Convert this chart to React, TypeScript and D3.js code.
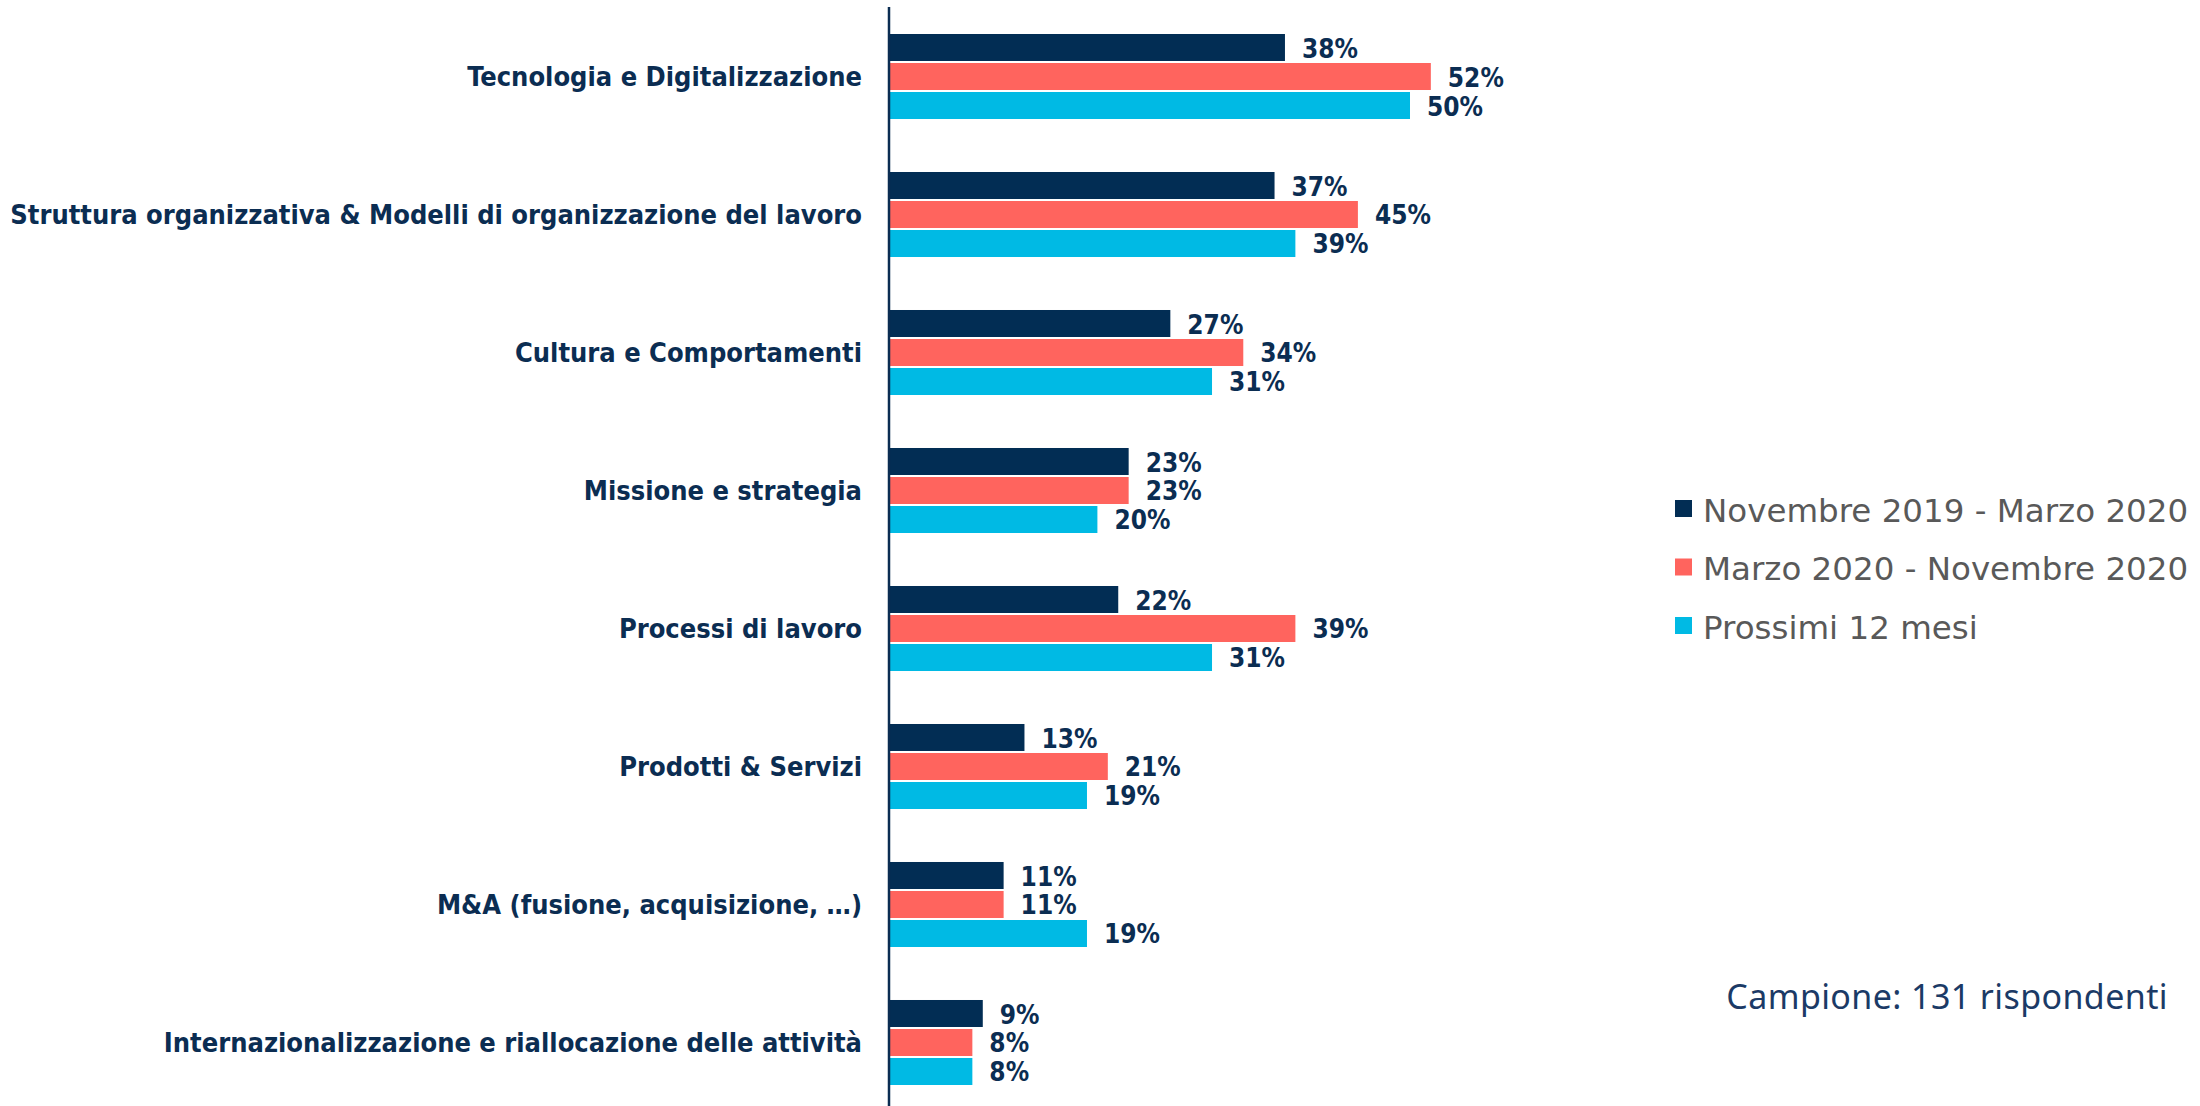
import React from 'react'
import * as d3 from 'd3'

const categories = [
  'Tecnologia e Digitalizzazione',
  'Struttura organizzativa & Modelli di organizzazione del lavoro',
  'Cultura e Comportamenti',
  'Missione e strategia',
  'Processi di lavoro',
  'Prodotti & Servizi',
  'M&A (fusione, acquisizione, …)',
  'Internazionalizzazione e riallocazione delle attività',
]
const seriesNames = ['Novembre 2019 - Marzo 2020', 'Marzo 2020 - Novembre 2020', 'Prossimi 12 mesi']
const seriesColors = ['#022d54', '#ff645e', '#00bae4']
const novMar = [38, 37, 27, 23, 22, 13, 11, 9]
const marNov = [52, 45, 34, 23, 39, 21, 11, 8]
const prossimi = [50, 39, 31, 20, 31, 19, 19, 8]
const seriesValues = [novMar, marNov, prossimi]

const navy = '#0b2d52'
const condensed = '"DejaVu Sans Condensed", "DejaVu Sans", sans-serif'

const App = () => {
  const width = 2200
  const height = 1106

  const x = d3.scaleLinear().domain([0, 60]).range([889, 889 + 625.2])
  const y0 = d3.scaleBand<string>().domain(categories).range([34, 1085]).paddingInner(0.384).paddingOuter(0)
  const y1 = d3.scaleBand<string>().domain(seriesNames).range([0, y0.bandwidth()]).paddingInner(0.069).paddingOuter(0)

  return (
    <svg width={width} height={height} style={{ position: 'absolute', left: 0, top: 0, background: '#fff' }}>
      {categories.map((cat, i) => (
        <g key={cat} transform={`translate(0,${y0(cat)})`}>
          {seriesNames.map((s, j) => {
            const v = seriesValues[j][i]
            const by = y1(s) as number
            return (
              <g key={s}>
                <rect
                  x={x(0)}
                  y={by}
                  width={x(v) - x(0)}
                  height={y1.bandwidth()}
                  fill={seriesColors[j]}
                />
                <text
                  x={x(v) + 17}
                  y={by + y1.bandwidth() / 2 + 1}
                  dominantBaseline="central"
                  fontFamily={condensed}
                  fontWeight="bold"
                  fontSize={26}
                  fill={navy}
                >
                  {v + '%'}
                </text>
              </g>
            )
          })}
          <text
            x={862}
            y={y0.bandwidth() / 2}
            textAnchor="end"
            dominantBaseline="central"
            fontFamily={condensed}
            fontWeight="bold"
            fontSize={27}
            fill={navy}
          >
            {cat}
          </text>
        </g>
      ))}

      {/* asse verticale */}
      <line x1={x(0)} x2={x(0)} y1={7} y2={height} stroke={navy} strokeWidth={2.5} />

      {/* legenda */}
      {seriesNames.map((s, j) => (
        <g key={s} transform={`translate(1675,${500 + j * 58.5})`}>
          <rect width={17} height={17} fill={seriesColors[j]} />
          <text x={28} y={21.5} fontFamily='"DejaVu Sans", sans-serif' fontSize={32.5} fill="#595959">
            {s}
          </text>
        </g>
      ))}

      <text
        x={2168}
        y={1009}
        textAnchor="end"
        fontFamily='"Noto Sans", sans-serif'
        fontSize={34}
        letterSpacing={0.4}
        fill="#1b3a66"
      >
        Campione: 131 rispondenti
      </text>
    </svg>
  )
}

export default App
